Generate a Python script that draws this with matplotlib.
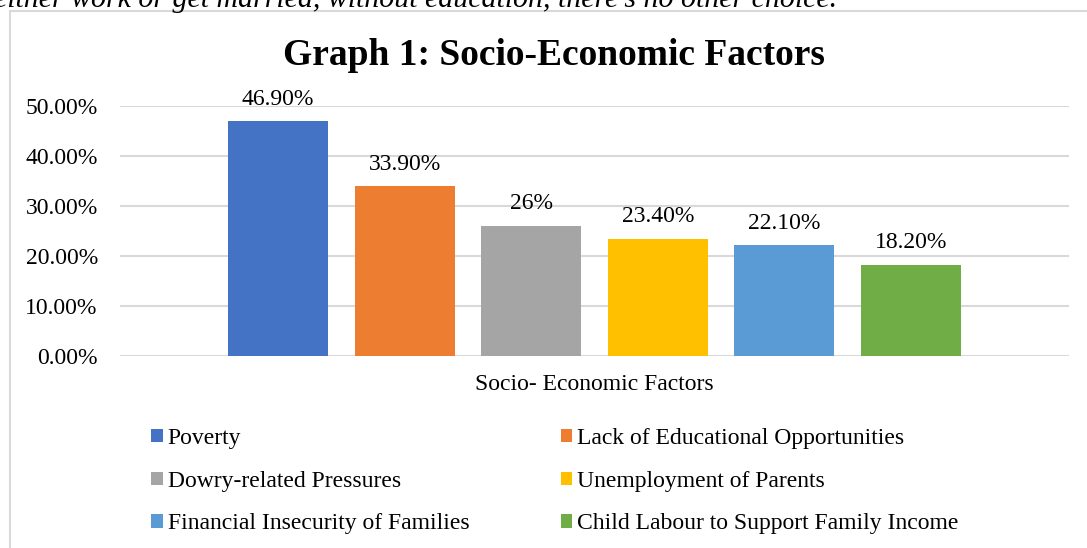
import matplotlib
matplotlib.use("Agg")
import matplotlib.pyplot as plt
from matplotlib.patches import Rectangle, Patch
from matplotlib.ticker import PercentFormatter

plt.rcParams['font.family'] = ['Liberation Serif', 'DejaVu Serif']

# data
factors = ["Poverty", "Lack of Educational Opportunities", "Dowry-related Pressures",
           "Unemployment of Parents", "Financial Insecurity of Families",
           "Child Labour to Support Family Income"]
values = [0.469, 0.339, 0.26, 0.234, 0.221, 0.182]
value_labels = ["46.90%", "33.90%", "26%", "23.40%", "22.10%", "18.20%"]
colors = ["#4472C4", "#ED7D31", "#A5A5A5", "#FFC000", "#5B9BD5", "#70AD47"]

W, H = 1087, 548
fig = plt.figure(figsize=(W / 100, H / 100), dpi=100)

# chart frame (cut off at right and bottom)
fig.patches.append(Rectangle((9.5 / W, -0.1), 1.2, 1 - 11.5 / H + 0.1,
                             transform=fig.transFigure, fill=False,
                             edgecolor="#d9d9d9", linewidth=1.5))

# cropped line of document text above the chart
fig.text(-6 / W, 1 - 7 / H,
         "either work or get married, without education, there\u2019s no other choice.",
         fontsize=21.5, style="italic", va="baseline", ha="left")

fig.text(554 / W, 1 - 65 / H, "Graph 1: Socio-Economic Factors",
         fontsize=27, fontweight="bold", ha="center", va="baseline")

ax = fig.add_axes([120 / W, 1 - 356 / H, (1069 - 120) / W, (356 - 106) / H])
x = list(range(len(values)))
ax.bar(x, values, width=100 / 126.5, color=colors, zorder=3)
for xi, v, lab in zip(x, values, value_labels):
    ax.annotate(lab, (xi, v), xytext=(0, 12), textcoords="offset points",
                ha="center", va="baseline", fontsize=17)

ax.set_xlim(-1.25, 6.25)
ax.set_ylim(0, 0.5)
ax.set_yticks([0, 0.1, 0.2, 0.3, 0.4, 0.5])
ax.yaxis.set_major_formatter(PercentFormatter(xmax=1, decimals=2))
ax.set_xticks([])
ax.tick_params(axis="y", length=0, pad=16, labelsize=17)
ax.grid(axis="y", color="#d9d9d9", linewidth=1.5, zorder=0)
for s in ax.spines.values():
    s.set_visible(False)
ax.set_xlabel("Socio- Economic Factors", fontsize=17, labelpad=13)

handles = [Patch(facecolor=c) for c in colors]
order = [0, 2, 4, 1, 3, 5]
fig.legend([handles[i] for i in order], [factors[i] for i in order],
           ncol=2, loc="upper left", bbox_to_anchor=(151 / W, 1 - 428 / H),
           frameon=False, fontsize=17, handlelength=0.5, handleheight=0.5,
           handletextpad=0.2, columnspacing=3.87, labelspacing=0.92,
           borderpad=0, borderaxespad=0)

fig.savefig("out.png", dpi=100)
